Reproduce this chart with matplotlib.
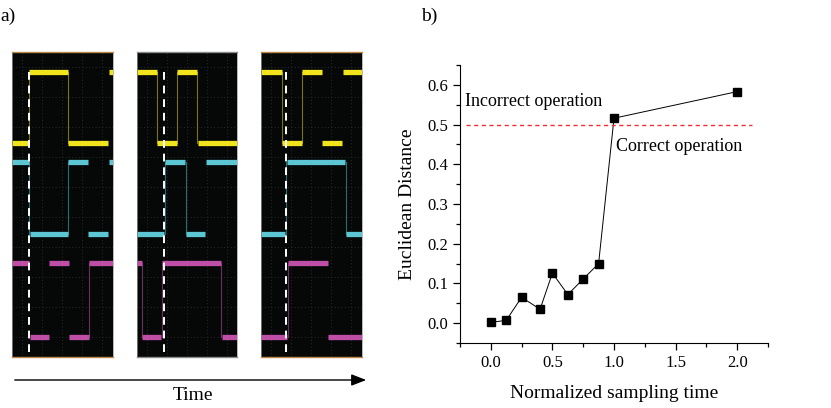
import matplotlib
matplotlib.use("Agg")
import matplotlib.pyplot as plt
from matplotlib.ticker import MultipleLocator

plt.rcParams['font.family'] = ['Liberation Serif', 'DejaVu Serif']

# ---- panel b data ----
samp_time = [0.0, 0.125, 0.25, 0.4, 0.5, 0.625, 0.75, 0.875, 1.0, 2.0]
eucl_dist = [0.002, 0.007, 0.065, 0.035, 0.126, 0.072, 0.111, 0.150, 0.516, 0.583]
threshold = 0.5

# ---- panel a data: scope traces (x, y in px inside each screen) ----
# levels of each channel (high, low)
lvl_yellow = (20, 91)
lvl_cyan = (110, 182)
lvl_magenta = (211, 285)

# segments: (x_start, x_end, state) state 1 = high, 0 = low
scope1_yellow = [(0, 16.3, 0), (17.3, 56.3, 1), (56.3, 96.3, 0), (97.3, 100.7, 1)]
scope1_cyan = [(0, 17, 1), (18, 56.3, 0), (56.3, 76.3, 1), (76.3, 96.3, 0), (97.3, 100.7, 1)]
scope1_magenta = [(0, 17, 1), (18, 37, 0), (37.3, 56.7, 1), (57, 76.7, 0), (76.7, 100.7, 1)]
scope1_edges = {'yellow': [17, 56.3], 'cyan': [17, 56.3], 'magenta': [76.7]}
scope1_marker = 17.3

scope2_yellow = [(0, 19.7, 1), (20.3, 39.7, 0), (40.3, 59.7, 1), (60.7, 100, 0)]
scope2_cyan = [(0, 27.3, 0), (28.3, 48.3, 1), (48.7, 68.3, 0), (69, 100, 1)]
scope2_magenta = [(0, 4.7, 1), (4.7, 24.3, 0), (24.7, 84, 1), (84.7, 100, 0)]
scope2_edges = {'yellow': [20, 40.3, 60.3], 'cyan': [28, 48.7], 'magenta': [4.7, 24.7, 84.3]}
scope2_marker = 27.3

scope3_yellow = [(0, 20.7, 1), (21.3, 40.7, 0), (41, 60.7, 1), (61.3, 80.7, 0), (81.7, 100.7, 1)]
scope3_cyan = [(0, 24.3, 0), (25.7, 84.3, 1), (84.7, 100.7, 0)]
scope3_magenta = [(0, 25.7, 0), (26.7, 66.7, 1), (67.3, 100.7, 0)]
scope3_edges = {'yellow': [21, 41], 'cyan': [25, 84.7], 'magenta': [26.7]}
scope3_marker = 25

W, H = 831, 408
fig = plt.figure(figsize=(W / 100, H / 100), dpi=100)

colors = {'yellow': '#f2e41c', 'cyan': '#5cc6d3', 'magenta': '#bf4fa6'}
edge_colors = {'yellow': '#7a7220', 'cyan': '#2f6a70', 'magenta': '#6a2f5c'}
levels = {'yellow': lvl_yellow, 'cyan': lvl_cyan, 'magenta': lvl_magenta}


def px_axes(x0, y0, w, h):
    return fig.add_axes([x0 / W, 1 - (y0 + h) / H, w / W, h / H])


def draw_scope(x0, width, segs, edges, marker, border):
    ax = px_axes(x0, 51.5, width, 305)
    ax.set_facecolor('#060808')
    ax.set_xlim(0, width)
    ax.set_ylim(305, 0)
    for gx in range(10, int(width), 20):
        ax.axvline(gx, color='#353535', lw=0.6, ls=(0, (1, 3)))
    for gy in range(15, 305, 30):
        ax.axhline(gy, color='#353535', lw=0.6, ls=(0, (1, 3)))
    for name, seglist in segs.items():
        hi, lo = levels[name]
        for xe in edges[name]:
            ax.plot([xe, xe], [hi, lo], color=edge_colors[name], lw=0.8)
        for xs, xe, st in seglist:
            y = hi if st else lo
            ax.plot([xs, xe], [y, y], color=colors[name], lw=3.8,
                    solid_capstyle='butt')
    ax.plot([marker, marker], [20, 300], color='white', lw=1.4,
            ls=(0, (4, 3)))
    ax.set_xticks([])
    ax.set_yticks([])
    for s in ['left', 'right']:
        ax.spines[s].set_color('#9a9a9a')
        ax.spines[s].set_linewidth(0.5)
    for s in ['top', 'bottom']:
        ax.spines[s].set_color(border)
        ax.spines[s].set_linewidth(1.0)


draw_scope(12, 100.7, {'yellow': scope1_yellow, 'cyan': scope1_cyan,
                       'magenta': scope1_magenta}, scope1_edges, scope1_marker, '#b9884a')
draw_scope(137, 100, {'yellow': scope2_yellow, 'cyan': scope2_cyan,
                      'magenta': scope2_magenta}, scope2_edges, scope2_marker, '#8a8a8a')
draw_scope(261, 100.7, {'yellow': scope3_yellow, 'cyan': scope3_cyan,
                        'magenta': scope3_magenta}, scope3_edges, scope3_marker, '#b9884a')

# ---- panel b ----
ax = px_axes(460, 65, 308, 278)
ax.plot(samp_time, eucl_dist, color='black', lw=0.7, marker='s', ms=6.2,
        mfc='black', mec='black')
ax.plot([-0.2, 2.12], [threshold, threshold], color='#f03030', lw=1.0, ls=(0, (3, 2.5)))
ax.text(-0.21, 0.558, 'Incorrect operation', fontsize=13, va='center', ha='left')
ax.text(1.02, 0.446, 'Correct operation', fontsize=13, va='center', ha='left')
ax.set_xlim(-0.25, 2.25)
ax.set_ylim(-0.05, 0.65)
ax.xaxis.set_major_locator(MultipleLocator(0.5))
ax.xaxis.set_minor_locator(MultipleLocator(0.25))
ax.yaxis.set_major_locator(MultipleLocator(0.1))
ax.yaxis.set_minor_locator(MultipleLocator(0.05))
ax.set_xticks([0.0, 0.5, 1.0, 1.5, 2.0])
ax.set_xticklabels(['0.0', '0.5', '1.0', '1.5', '2.0'])
ax.set_yticks([0.0, 0.1, 0.2, 0.3, 0.4, 0.5, 0.6])
ax.set_yticklabels(['0.0', '0.1', '0.2', '0.3', '0.4', '0.5', '0.6'])
ax.spines['top'].set_visible(False)
ax.spines['right'].set_visible(False)
ax.tick_params(which='major', direction='out', length=5, width=0.9, labelsize=12)
ax.tick_params(which='minor', direction='out', length=3, width=0.9)
ax.set_xlabel('Normalized sampling time', fontsize=14, labelpad=10)
ax.set_ylabel('Euclidean Distance', fontsize=14, labelpad=8)

# ---- overlay: labels and time arrow ----
ov = fig.add_axes([0, 0, 1, 1])
ov.set_xlim(0, W)
ov.set_ylim(H, 0)
ov.axis('off')
ov.patch.set_alpha(0)
ov.text(0, 16, 'a)', fontsize=14, va='center', ha='left')
ov.text(421, 16, 'b)', fontsize=14, va='center', ha='left')
ov.annotate('', xy=(369, 380), xytext=(12, 380),
            arrowprops=dict(arrowstyle='-|>,head_length=0.9,head_width=0.35',
                            color='black', lw=1.0))
ov.text(193, 396, 'Time', fontsize=14, va='center', ha='center')

fig.savefig('out.png', dpi=100)
